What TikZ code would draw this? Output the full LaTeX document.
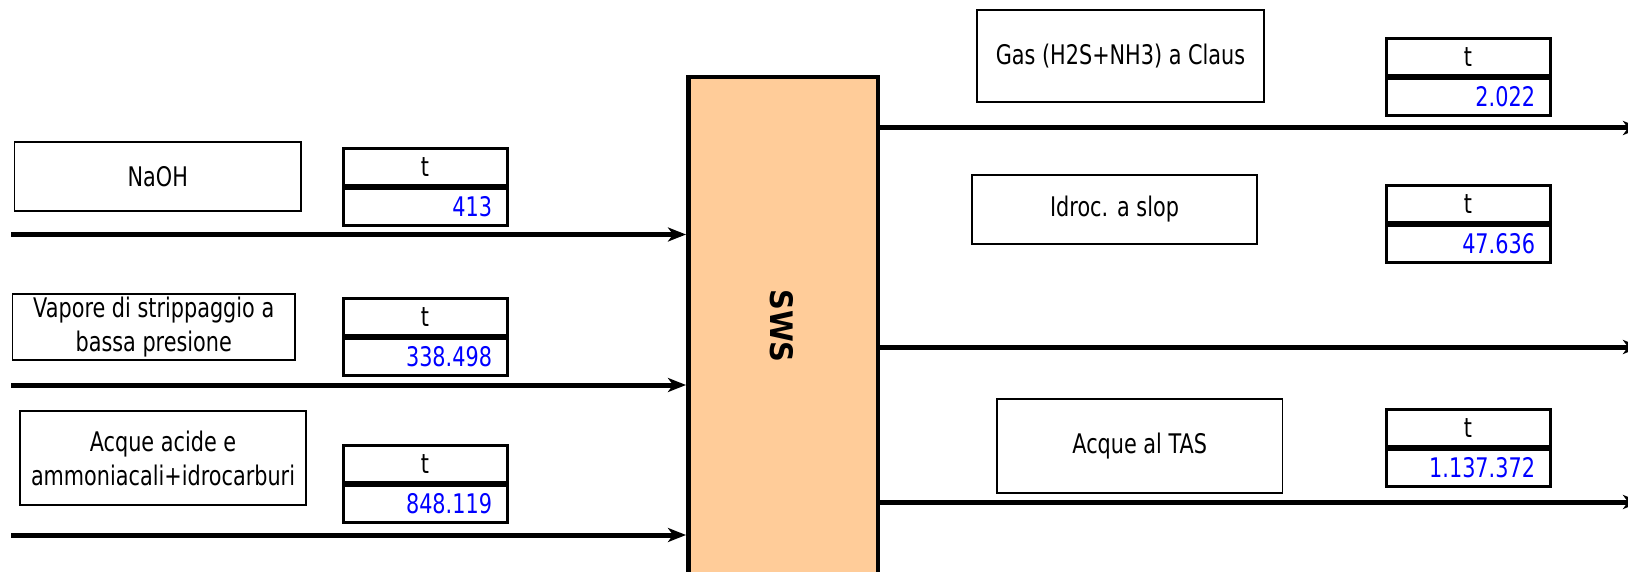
\documentclass[tikz,border=0pt]{standalone}
\usepackage{fontspec}
\setmainfont{DejaVu Sans}[FakeStretch=0.77]
\newfontfamily\swsfont{DejaVu Sans}[FakeStretch=0.93]
\usetikzlibrary{arrows.meta}
\definecolor{peach}{RGB}{255,204,153}
\definecolor{numblue}{RGB}{0,0,255}
\tikzset{
  lblbox/.style={draw, line width=1.5pt, minimum width=#1, inner sep=0pt, align=center,
    font=\fontsize{27}{31}\selectfont},
  tcell/.style={draw, line width=3pt, minimum width=164pt, minimum height=37pt, inner sep=0pt,
    font=\fontsize{27}{29}\selectfont},
  vcell/.style={draw, line width=3pt, minimum width=164pt, minimum height=37pt, inner xsep=15pt, inner ysep=0pt,
    text width=134pt, align=right, text=numblue, font=\fontsize{27}{29}\selectfont},
  flow/.style={line width=5pt, -{Stealth[length=18pt,width=14pt,inset=5pt]}},
}
\begin{document}
\begin{tikzpicture}[x=1pt,y=-1pt]
\useasboundingbox (0,0) rectangle (1628,572);
\clip (0,0) rectangle (1628,572);
% SWS unit
\node[draw, line width=4.5pt, fill=peach, minimum width=189.5pt, minimum height=542.75pt, inner sep=0pt] (sws) at (783,348.6) {};
\node[rotate=-90, font=\swsfont\bfseries\fontsize{31}{33}\selectfont] (swslbl) at (782,326) {SWS};
% input labels
\node[lblbox=286.5pt, minimum height=69pt] (naoh) at (157.75,176.5) {NaOH};
\node[lblbox=282.5pt, minimum height=66pt] (vap) at (153.75,327) {Vapore di strippaggio a\\[3pt]bassa presione};
\node[lblbox=286pt, minimum height=94pt] (acq) at (163,458) {Acque acide e\\[3pt]ammoniacali+idrocarburi};
% input t boxes
\node[tcell, anchor=south] (t1) at (425,187) {t};
\node[vcell, anchor=north] (v1) at (425,187) {413};
\node[tcell, anchor=south] (t2) at (425,337) {t};
\node[vcell, anchor=north] (v2) at (425,337) {338.498};
\node[tcell, anchor=south] (t3) at (425,484) {t};
\node[vcell, anchor=north] (v3) at (425,484) {848.119};
% input flows
\coordinate (s1) at (11,234.5);
\coordinate (s2) at (11,385);
\coordinate (s3) at (11,535);
\draw[flow] (s1) -- (s1 -| sws.west);
\draw[flow] (s2) -- (s2 -| sws.west);
\draw[flow] (s3) -- (s3 -| sws.west);
% output labels
\node[lblbox=287pt, minimum height=92pt] (gas) at (1120.5,56) {Gas (H2S+NH3) a Claus};
\node[lblbox=285pt, minimum height=69pt] (idr) at (1114.5,209.5) {Idroc. a slop};
\node[lblbox=285.5pt, minimum height=94pt] (tas) at (1139.75,446) {Acque al TAS};
% output t boxes
\node[tcell, anchor=south] (t4) at (1468,77) {t};
\node[vcell, anchor=north] (v4) at (1468,77) {2.022};
\node[tcell, anchor=south] (t5) at (1468,224) {t};
\node[vcell, anchor=north] (v5) at (1468,224) {47.636};
\node[tcell, anchor=south] (t6) at (1468,448) {t};
\node[vcell, anchor=north] (v6) at (1468,448) {1.137.372};
% output flows
\coordinate (e1) at (1641,128);
\coordinate (e2) at (1641,347);
\coordinate (e3) at (1641,502);
\draw[flow] (e1 -| sws.east) -- (e1);
\draw[flow] (e2 -| sws.east) -- (e2);
\draw[flow] (e3 -| sws.east) -- (e3);
\end{tikzpicture}
\end{document}
